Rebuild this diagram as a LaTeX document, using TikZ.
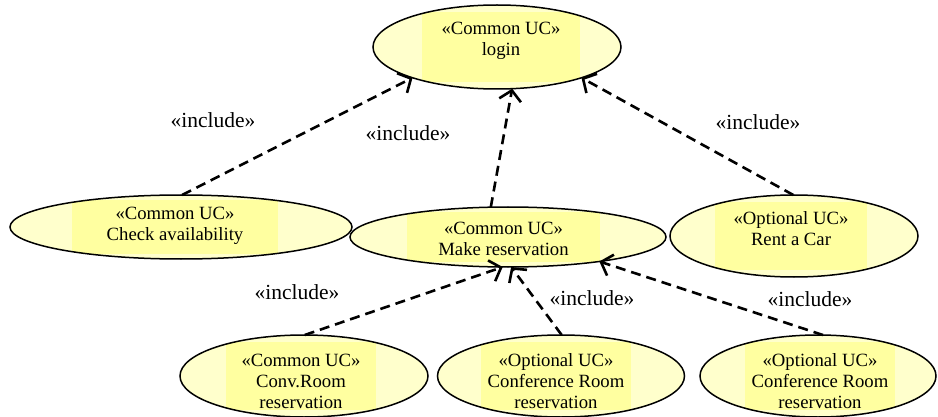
\documentclass[tikz,border=0pt]{standalone}
\usepackage{fontspec}
\setmainfont{Liberation Serif}
\usetikzlibrary{arrows.meta,shapes.geometric}
\definecolor{ucfill}{RGB}{255,255,204}
\definecolor{ucrect}{RGB}{255,255,160}
\tikzset{
  ucborder/.style={ellipse, draw=black, line width=1.5pt, inner sep=0pt, outer sep=0pt},
  uctext/.style={align=center, font=\fontsize{18.7}{21}\selectfont, inner sep=0pt},
  inclabel/.style={font=\fontsize{21.5}{24}\selectfont, inner sep=0pt},
  incl/.style={line width=2.6pt, dash pattern=on 10pt off 6pt, -{Straight Barb[length=10pt,width=22pt]}},
}
% name, cx, cy, rx, ry, tx, ty, rect half width, text
\newcommand\usecase[9]{%
  \pgfmathsetmacro\ucrh{0.83*#5}%
  \begin{scope}
    \fill[ucfill] (#2,#3) ellipse [x radius=#4pt, y radius=#5pt];
    \clip (#2,#3) ellipse [x radius=#4pt, y radius=#5pt];
    \fill[ucrect] (#6-#8,#3-\ucrh) rectangle (#6+#8,#3+\ucrh);
  \end{scope}
  \node[ucborder, minimum width=2*#4pt, minimum height=2*#5pt] (#1) at (#2,#3) {};
  \node[uctext] (#1-t) at (#6,#7) {#9};
}
\begin{document}
\begin{tikzpicture}[x=1pt,y=-1pt]
\useasboundingbox (0,0) rectangle (938,417);
\usecase{login}{497}{47}{124}{42}{501}{41}{79}{«Common UC»\\login}
\usecase{ca}{181}{227}{171}{32}{175}{226}{103}{«Common UC»\\Check availability}
\usecase{mr}{508}{237}{158}{30}{503.5}{238.5}{96.5}{«Common UC»\\Make reservation}
\usecase{rc}{794}{236}{124}{41}{791}{229}{76}{«Optional UC»\\Rent a Car}
\usecase{cr}{304}{376}{124}{41}{301}{381}{75}{«Common UC»\\Conv.Room\\reservation}
\usecase{cf1}{561}{376}{123.5}{41}{556}{381}{75}{«Optional UC»\\Conference Room\\reservation}
\usecase{cf2}{818}{376}{118}{41}{820}{381}{75}{«Optional UC»\\Conference Room\\reservation}

\draw[incl] (ca.88) -- (login.200);
\draw[incl] (mr.120) -- (login.290);
\draw[incl] (rc.91) -- (login.340);
\draw[incl] (cr.89) -- (mr.260);
\draw[incl] (cf1.89) -- (mr.276);
\draw[incl] (cf2.83) -- (mr.345);

\node[inclabel] (l1) at (213,120) {«include»};
\node[inclabel] (l2) at (408,133) {«include»};
\node[inclabel] (l3) at (758,122) {«include»};
\node[inclabel] (l4) at (297,292) {«include»};
\node[inclabel] (l5) at (592,298) {«include»};
\node[inclabel] (l6) at (810,299) {«include»};
\end{tikzpicture}
\end{document}
